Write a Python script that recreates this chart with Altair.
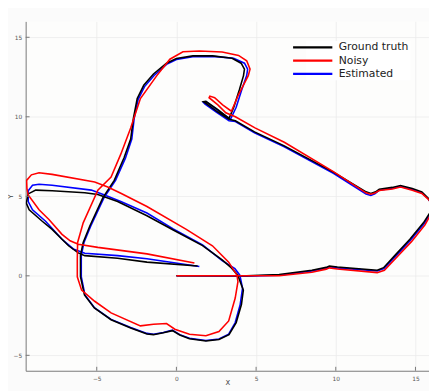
import altair as alt
import pandas as pd

SERIES = ["Ground truth", "Noisy", "Estimated"]
COLORS = ["#000000", "#ff0000", "#0000ff"]
TICKS = [-5, 0, 5, 10, 15]

GT_X = [0, 2.0, 4.4, 6.45, 8.5, 9.4, 9.6, 10.1, 12.6, 13.0, 13.8, 14.65, 15.5, 15.9, 15.9, 15.8,
        15.4, 14.8, 14.06, 13.55, 12.73, 12.5, 12.2, 11.9, 9.85, 6.77, 4.9, 3.7, 3.3,
        2.6, 1.85, 1.7, 1.85, 2.6, 3.3,
        3.6, 3.95, 4.21, 4.27, 4.06, 3.49, 2.26, 1.03, 0, -0.62, -1.44, -2.05, -2.46, -2.7, -2.87,
        -3.28, -3.9, -4.62, -5.44, -5.85, -6.02, -6.02, -5.77, -5.15, -4.1, -2.87, -1.85, -1.44,
        -0.82, -0.25, 0.21, 0.82, 1.85, 2.67, 3.3, 3.75, 4.08, 4.2, 3.85, 3.45, 2.87, 1.64, -0.2,
        -1.85, -3.69, -4.93, -5.75, -7.8, -8.83, -9.3, -9.42, -9.24, -8.42, -7.8, -6.77, -6.16,
        -5.75, -3.69, -1.85, 1.33]
GT_Y = [0, 0.0, 0.0, 0.08, 0.35, 0.53, 0.62, 0.55, 0.35, 0.51, 1.38, 2.3, 3.33, 3.95, 4.7, 4.88,
        5.28, 5.49, 5.68, 5.56, 5.45, 5.28, 5.18, 5.28, 6.52, 8.17, 9.05, 9.75, 9.85,
        10.3, 10.85, 10.95, 10.97, 10.45, 9.9,
        10.6, 11.7, 12.59, 13.0, 13.37, 13.68, 13.83, 13.83, 13.66, 13.37, 12.69, 11.98, 11.15, 9.9, 8.6,
        7.44, 6.0, 4.9, 3.12, 2.1, 1.27, -0.06, -1.2, -2.02, -2.76, -3.28, -3.66, -3.7,
        -3.58, -3.45, -3.72, -3.96, -4.1, -4.0, -3.7, -2.94, -1.81, -0.9, 0.04, 0.5, 1.0, 1.9, 2.88,
        3.78, 4.67, 5.12, 5.22, 5.35, 5.39, 5.15, 4.57, 4.15, 3.43, 2.92, 1.89, 1.44,
        1.27, 1.11, 0.86, 0.62]

NOISY_X = [0, 4.0, 6.45, 8.5, 9.4, 9.6, 10.1, 12.6, 13.05, 13.9, 14.75, 15.6, 15.95, 15.95, 15.85,
           15.4, 14.8, 14.06, 13.55, 12.73, 12.45, 12.2, 11.9, 9.85, 6.77, 4.93, 3.7, 3.1,
           2.6, 2.05, 2.1, 2.4, 2.9, 3.45,
           3.9, 4.51, 4.62, 4.41, 3.9, 2.87, 1.44, 0.41, -0.41, -1.23, -2.26, -2.87, -3.49, -4.1,
           -4.93, -5.85, -6.2, -6.22, -6.22, -5.95, -5.13, -4.1, -2.26, -1.44, -0.62, -0.1, 0.82,
           1.85, 2.67, 3.28, 3.69, 3.86, 3.8, 3.28, 2.26, 0.62, -1.85, -3.49, -4.31, -5.13, -7.8,
           -8.62, -9.1, -9.4, -9.38, -9.3, -8.62, -8.0, -7.18, -6.67, -6.16, -4.93, -1.85, 1.13]
NOISY_Y = [0, 0.0, 0.0, 0.22, 0.42, 0.5, 0.43, 0.2, 0.35, 1.25, 2.15, 3.2, 3.85, 4.6, 4.78,
           5.18, 5.38, 5.58, 5.46, 5.36, 5.2, 5.13, 5.22, 6.55, 8.4, 9.3, 10.0, 10.25,
           10.75, 11.2, 11.3, 11.2, 10.75, 10.35,
           11.4, 12.59, 13.0, 13.52, 13.86, 14.07, 14.14, 14.09, 13.62, 12.59, 11.15, 9.3, 7.65, 6.21,
           5.39, 3.33, 2.1, 1.07, -0.06, -0.9, -1.6, -2.33, -3.15, -3.05, -3.0, -3.36, -3.67,
           -3.77, -3.5, -2.84, -1.4, -0.37, 0.04, 0.86, 1.89, 2.92, 4.36, 5.19, 5.59, 5.9, 6.38,
           6.48, 6.35, 6.0, 5.5, 5.08, 4.15, 3.54, 2.61, 2.2, 1.99, 1.79, 1.38, 0.8]

EST_X = [0, 4.4, 6.45, 8.5, 9.4, 9.6, 10.1, 12.6, 13.02, 13.85, 14.7, 15.55, 15.92, 15.92, 15.82,
         15.4, 14.8, 14.06, 13.55, 12.73, 12.45, 12.2, 11.9, 9.85, 6.77, 4.9, 3.7, 3.3,
         2.5, 1.8, 1.7, 1.85, 2.6, 3.4,
         3.75, 4.1, 4.41, 4.47, 4.27, 3.59, 2.3, 1.03, 0, -0.62, -1.4, -2.0, -2.4, -2.65, -2.8,
         -3.2, -3.82, -4.55, -5.38, -5.8, -5.97, -5.97, -5.74, -5.13, -4.1, -2.87, -1.85, -1.44,
         -0.82, -0.25, 0.21, 0.82, 1.85, 2.67, 3.28, 3.69, 4.0, 4.15, 3.98, 3.67, 2.87, 1.64, -0.2,
         -1.85, -3.49, -4.51, -5.34, -7.8, -8.62, -9.03, -9.3, -9.3, -9.03, -8.21, -7.18, -6.47,
         -5.75, -3.69, -1.85, 1.44]
EST_Y = [0, -0.02, 0.04, 0.3, 0.48, 0.57, 0.5, 0.3, 0.45, 1.33, 2.25, 3.28, 3.9, 4.65, 4.83,
         5.22, 5.43, 5.63, 5.5, 5.38, 5.15, 5.05, 5.15, 6.45, 8.12, 9.0, 9.7, 9.75,
         10.3, 10.8, 10.9, 10.95, 10.4, 9.85,
         10.6, 11.7, 12.59, 13.0, 13.37, 13.68, 13.8, 13.78, 13.6, 13.3, 12.6, 11.9, 11.1, 9.9, 8.6,
         7.4, 6.0, 4.9, 3.12, 2.1, 1.27, -0.06, -1.2, -2.02, -2.74, -3.25, -3.62, -3.67,
         -3.56, -3.42, -3.7, -3.93, -4.07, -3.97, -3.67, -2.94, -1.81, -0.78, 0.04, 0.45, 0.95, 1.95, 2.95,
         3.95, 4.67, 5.08, 5.39, 5.7, 5.76, 5.7, 5.35, 4.67, 4.15, 3.43, 2.3, 1.69,
         1.42, 1.27, 1.07, 0.59]


def frame(name, xs, ys):
    return pd.DataFrame({"x": xs, "y": ys, "i": list(range(len(xs))), "series": name})


df = pd.concat([frame(SERIES[0], GT_X, GT_Y),
                frame(SERIES[1], NOISY_X, NOISY_Y),
                frame(SERIES[2], EST_X, EST_Y)], ignore_index=True)
ticks_df = pd.DataFrame({"t": TICKS})

W, H = 411, 356
xscale = alt.Scale(domain=[-9.46, 15.85], nice=False, zero=False)
yscale = alt.Scale(domain=[-5.97, 16.0], nice=False, zero=False)

xaxis = alt.Axis(values=TICKS, title="X", format="d", titleFontSize=7, titleFont="DejaVu Sans",
                 titleColor="#444", titleFontWeight="normal", titleBaseline="top", titleY=8,
                 labelFontSize=6, labelFont="DejaVu Sans", labelColor="#555", tickSize=0,
                 labelPadding=5, domainColor="#777", domainWidth=1, gridColor="#e9e9e9",
                 gridWidth=0.7, labelFlush=False)
yaxis = alt.Axis(values=TICKS, title="Y", format="d", titleFontSize=7, titleFont="DejaVu Sans",
                 titleColor="#444", titleFontWeight="normal", titleX=-12, titleY=178,
                 labelFontSize=6, labelFont="DejaVu Sans", labelColor="#555", tickSize=0,
                 labelPadding=4, domainColor="#777", domainWidth=1, gridColor="#e9e9e9",
                 gridWidth=0.7)

color = alt.Color("series:N",
                  scale=alt.Scale(domain=SERIES, range=COLORS),
                  legend=alt.Legend(title=None, orient="none", legendX=286, legendY=20,
                                    symbolType="M-10,0H10", symbolSize=16, symbolStrokeWidth=2.2,
                                    labelFontSize=11, labelFont="DejaVu Sans", labelColor="#222",
                                    fillColor="white", padding=1, rowPadding=1.5, labelOffset=21))


def line(name):
    return alt.Chart(df).transform_filter(alt.datum.series == name).mark_line(
        strokeWidth=1.6, clip=True).encode(
        x=alt.X("x:Q", scale=xscale, axis=xaxis),
        y=alt.Y("y:Q", scale=yscale, axis=yaxis),
        color=color,
        order="i:Q")


ytick = alt.Chart(ticks_df).mark_rule(color="#777", strokeWidth=1).encode(
    y=alt.Y("t:Q", scale=yscale, axis=yaxis), x=alt.value(0), x2=alt.value(4))
xtick = alt.Chart(ticks_df).mark_rule(color="#777", strokeWidth=1).encode(
    x=alt.X("t:Q", scale=xscale, axis=xaxis), y=alt.value(H), y2=alt.value(H - 4))

chart = alt.layer(line("Estimated"), line("Ground truth"), line("Noisy"), ytick, xtick).properties(
    width=W, height=H,
    autosize=alt.AutoSizeParams(type="none"),
    padding={"left": 18, "top": 10, "right": 0, "bottom": 17},
).configure(background="#fbfbfb").configure_view(fill="#fdfdfc", stroke=None)

chart.save("out.html", embed_options={"renderer": "svg", "actions": False})
